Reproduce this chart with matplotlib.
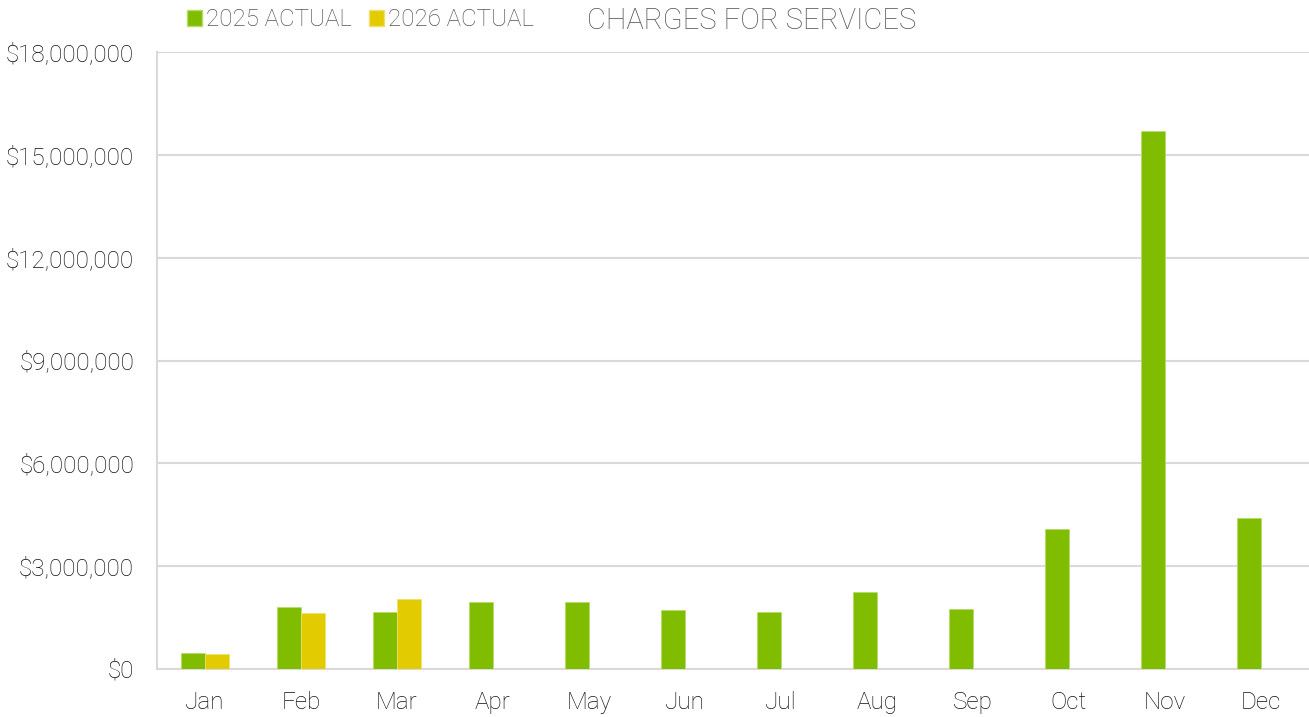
import numpy as np
import matplotlib
matplotlib.use("Agg")
import matplotlib.pyplot as plt
from matplotlib.patches import Patch
from matplotlib.ticker import FuncFormatter, MultipleLocator

months = ["Jan", "Feb", "Mar", "Apr", "May", "Jun",
          "Jul", "Aug", "Sep", "Oct", "Nov", "Dec"]
actual_2025 = [0.47, 1.82, 1.65, 1.96, 1.96, 1.73,
               1.65, 2.24, 1.74, 4.08, 15.70, 4.40]   # millions
actual_2026 = [0.45, 1.62, 2.04]                      # millions, Jan-Mar

green = "#80BC00"
yellow = "#E2CB00"

plt.rcParams["font.family"] = ["Roboto", "DejaVu Sans"]
plt.rcParams["font.weight"] = "light"

fig = plt.figure(figsize=(13.09, 7.17), dpi=100)
ax = fig.add_axes([157 / 1309, 1 - 669 / 717, 1 - 157 / 1309, (669 - 52) / 717])

x = np.arange(len(months))
w = 0.25
ax.bar(x - w / 2, np.array(actual_2025) * 1e6, w, color=green,
       edgecolor="#b5dc6a", linewidth=0.6, zorder=3)
x26 = np.arange(len(actual_2026))
ax.bar(x26 + w / 2, np.array(actual_2026) * 1e6, w, color=yellow,
       edgecolor="#f0e070", linewidth=0.6, zorder=3)

ax.set_xlim(-0.5, 11.5)
ax.set_ylim(0, 18e6)
ax.yaxis.set_major_locator(MultipleLocator(3e6))
ax.yaxis.set_major_formatter(FuncFormatter(lambda v, p: "${:,.0f}".format(v)))
ax.grid(axis="y", color="#d9d9d9", linewidth=1.5, zorder=0)
ax.set_xticks(x)
ax.set_xticklabels(months)
ax.tick_params(length=0, labelsize=17.5, colors="#111111")
ax.tick_params(axis="x", pad=16)
ax.tick_params(axis="y", pad=16.5)

for s in ["top", "right"]:
    ax.spines[s].set_visible(False)
for s in ["left", "bottom"]:
    ax.spines[s].set_color("#d9d9d9")
    ax.spines[s].set_linewidth(1.5)

fig.text(752 / 1309, 1 - 21 / 717, "CHARGES FOR SERVICES", ha="center",
         va="center", fontsize=21, color="#555555")

handles = [Patch(facecolor=green, edgecolor="#b5dc6a", label="2025 ACTUAL"),
           Patch(facecolor=yellow, edgecolor="#f0e070", label="2026 ACTUAL")]
fig.legend(handles=handles, loc="center left", ncol=2, frameon=False,
           bbox_to_anchor=(187 / 1309, 1 - 20 / 717), fontsize=17.4,
           handlelength=0.6, handleheight=0.6, handletextpad=0.2,
           columnspacing=0.7, borderpad=0, borderaxespad=0,
           labelcolor="#555555")

fig.savefig("out.png", dpi=100)
